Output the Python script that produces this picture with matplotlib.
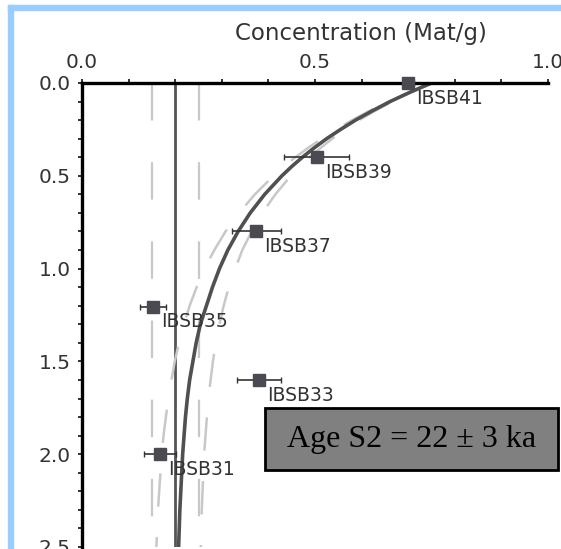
import matplotlib
matplotlib.use("Agg")
import matplotlib.pyplot as plt
from matplotlib.patches import Rectangle
from matplotlib.ticker import MultipleLocator

plt.rcParams['lines.scale_dashes'] = False

# samples: concentration (Mat/g) vs depth (m)
sample_names = ["IBSB41", "IBSB39", "IBSB37", "IBSB35", "IBSB33", "IBSB31"]
sample_conc = [0.70, 0.504, 0.374, 0.152, 0.380, 0.167]
sample_depth = [0.0, 0.40, 0.80, 1.205, 1.60, 2.0]
conc_err = [0.012, 0.07, 0.053, 0.028, 0.048, 0.034]
depth_err = [0.012, 0.02, 0.02, 0.02, 0.02, 0.02]

# modelled profile + envelope
profile_depth = [0.0, 0.05, 0.1, 0.15, 0.2, 0.25, 0.3, 0.35, 0.4, 0.45, 0.5,
                 0.6, 0.7, 0.8, 0.9, 1.0, 1.1, 1.2, 1.3, 1.4, 1.5, 1.6, 1.7,
                 1.8, 1.9, 2.0, 2.3, 2.6]
profile_best = [0.75, 0.704, 0.661, 0.623, 0.587, 0.555, 0.525, 0.498, 0.473,
                0.450, 0.429, 0.392, 0.361, 0.335, 0.313, 0.295, 0.280, 0.267,
                0.254, 0.245, 0.238, 0.231, 0.226, 0.222, 0.219, 0.216, 0.210,
                0.206]
profile_low = [0.75, 0.702, 0.658, 0.617, 0.580, 0.545, 0.514, 0.485, 0.458,
               0.433, 0.411, 0.371, 0.337, 0.308, 0.284, 0.263, 0.246, 0.231,
               0.219, 0.208, 0.199, 0.192, 0.185, 0.180, 0.175, 0.171, 0.163,
               0.158]
profile_high = [0.75, 0.706, 0.666, 0.629, 0.595, 0.565, 0.537, 0.512, 0.488,
                0.467, 0.448, 0.415, 0.387, 0.364, 0.344, 0.329, 0.315, 0.304,
                0.295, 0.287, 0.281, 0.276, 0.271, 0.268, 0.265, 0.262, 0.257,
                0.254]

# inheritance and its bounds
inherit = 0.20
inherit_low = 0.15
inherit_high = 0.25
line_depth = [0.0, 2.6]

W, H = 561, 549
fig = plt.figure(figsize=(W / 100, H / 100), dpi=100)

# light blue frame on top and left
fig.patches.append(Rectangle((8 / W, 0), 5 / W, 1 - 5 / H, transform=fig.transFigure,
                             color='#99ccff', zorder=0))
fig.patches.append(Rectangle((8 / W, 1 - 10 / H), 1, 5 / H, transform=fig.transFigure,
                             color='#99ccff', zorder=0))

ax = fig.add_axes([82 / W, 2 / H, 466 / W, 464 / H])
ax.set_xlim(0, 1)
ax.set_ylim(2.5, 0)

dash = (0, (27, 30))
ax.plot([inherit_low] * 2, line_depth, color='#c8c8c8', lw=1.6, ls=dash)
ax.plot([inherit_high] * 2, line_depth, color='#c8c8c8', lw=1.6, ls=dash)
ax.plot([inherit] * 2, line_depth, color='#555555', lw=2.0)

ax.plot(profile_low, profile_depth, color='#c8c8c8', lw=1.8, ls=(0, (24, 22)))
ax.plot(profile_high, profile_depth, color='#c8c8c8', lw=1.8, ls=(12, (24, 22)))
ax.plot(profile_best, profile_depth, color='#505050', lw=2.6,
        solid_joinstyle='round')

ax.errorbar(sample_conc, sample_depth, xerr=conc_err, yerr=depth_err, fmt='s',
            ms=8, color='#4a4a52', ecolor='#333333', elinewidth=1.2, capsize=2.5,
            zorder=5, clip_on=False)
for name, x, y in zip(sample_names, sample_conc, sample_depth):
    ax.annotate(name, (x, y), xytext=(6, -4), textcoords='offset points',
                ha='left', va='top', fontsize=13.5, color='#333333')

# axes styling
ax.xaxis.tick_top()
ax.set_xticks([0.0, 0.5, 1.0])
ax.set_xticklabels(["0.0", "0.5", "1.0"])
ax.xaxis.set_minor_locator(MultipleLocator(0.1))
ax.set_yticks([0.0, 0.5, 1.0, 1.5, 2.0, 2.5])
ax.set_yticklabels(["0.0", "0.5", "1.0", "1.5", "2.0", "2.5"])
ax.yaxis.set_minor_locator(MultipleLocator(0.1))
ax.tick_params(which='both', direction='out', length=3, width=1.3, color='#222222',
               labelsize=14.5, labelcolor='#333333', pad=5)
for s in ['right', 'bottom']:
    ax.spines[s].set_visible(False)
for s in ['left', 'top']:
    ax.spines[s].set_linewidth(2.4)
    ax.spines[s].set_color('black')

fig.text(361 / W, 1 - 40 / H, "Concentration (Mat/g)", ha='center', va='baseline',
         fontsize=16.5, color='#333333')

# age box
fig.patches.append(Rectangle((265 / W, 1 - 470 / H), 293 / W, 62 / H,
                             transform=fig.transFigure, facecolor='#808080',
                             edgecolor='black', lw=2, zorder=10))
fig.text(411.5 / W, 1 - 439 / H, "Age S2 = 22 ± 3 ka", ha='center', va='center',
         fontsize=23, family='Liberation Serif', color='black', zorder=11)

fig.savefig("out.png", dpi=100)
